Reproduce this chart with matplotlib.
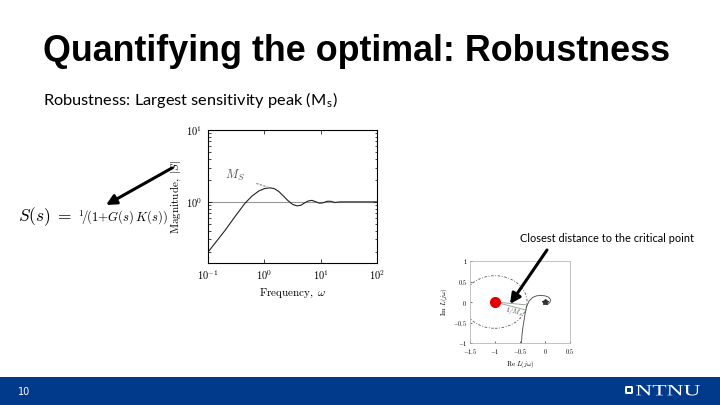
import numpy as np
import matplotlib
matplotlib.use("Agg")
import matplotlib.pyplot as plt
from matplotlib.patches import Rectangle, Circle, FancyBboxPatch, PathPatch
from matplotlib.textpath import TextPath
from matplotlib.font_manager import FontProperties
from matplotlib.transforms import Affine2D

plt.rcParams['mathtext.fontset'] = 'cm'

# -----------------------------
# data
# -----------------------------
# sensitivity |S(jw)|
w = [0.1, 0.2, 0.3, 0.45, 0.6, 0.8, 1.0, 1.25, 1.5, 1.8, 2.2, 2.6, 3.2, 3.8,
     4.5, 5.2, 6.0, 7.0, 8.0, 9.5, 11, 13, 15, 18, 22, 30, 50, 100]
mag_S = [0.2, 0.4, 0.62, 0.95, 1.2, 1.42, 1.53, 1.57, 1.53, 1.4, 1.2, 1.05,
         0.92, 0.88, 0.9, 0.97, 1.03, 1.05, 1.01, 0.96, 0.97, 1.02, 1.02,
         0.98, 1.0, 1.0, 1.0, 1.0]
Ms = 1.56
w_peak = 1.25
bode_xticks = [0.1, 1, 10, 100]
bode_xlabels = [r'$10^{-1}$', r'$10^{0}$', r'$10^{1}$', r'$10^{2}$']
bode_yticks = [1, 10]
bode_ylabels = [r'$10^{0}$', r'$10^{1}$']

# Nyquist of L(jw)
re_L = [-0.47, -0.46, -0.44, -0.42, -0.40, -0.37, -0.32, -0.25, -0.17, -0.08,
        0.0, 0.07, 0.11, 0.10, 0.05, -0.01, -0.03, -0.02, 0.02, 0.05, 0.05,
        0.02, -0.01, 0.0, 0.02, 0.01]
im_L = [-1.0, -0.8, -0.6, -0.45, -0.3, -0.12, 0.02, 0.11, 0.15, 0.16, 0.15,
        0.12, 0.06, -0.01, -0.06, -0.06, -0.02, 0.03, 0.05, 0.03, -0.01,
        -0.04, -0.02, 0.01, 0.02, 0.0]
closest = (-0.37, -0.2)

nyq_xticks = [-1.5, -1, -0.5, 0, 0.5]
nyq_xlabels = [r'$-1.5$', r'$-1$', r'$-0.5$', r'$0$', r'$0.5$']
nyq_yticks = [-1, -0.5, 0, 0.5, 1]
nyq_ylabels = [r'$-1$', r'$-0.5$', r'$0$', r'$0.5$', r'$1$']

W, H = 720, 405
fig = plt.figure(figsize=(7.2, 4.05), dpi=100)

def fr(x0, y0, x1, y1):
    # pixel box (top-left origin) -> figure fraction rect
    return [x0 / W, 1 - y1 / H, (x1 - x0) / W, (y1 - y0) / H]

# -----------------------------
# Bode magnitude of S
# -----------------------------
ax = fig.add_axes(fr(208, 130, 377, 263))
ax.loglog(w, mag_S, color='#222222', lw=0.8)
ax.axhline(1, color='#999999', lw=0.8, zorder=0)
ax.set_xlim(0.1, 100)
ax.set_ylim(10 ** -0.85, 10)
ax.xaxis.set_minor_locator(matplotlib.ticker.NullLocator())
ax.yaxis.set_minor_formatter(matplotlib.ticker.NullFormatter())
ax.set_xticks(bode_xticks)
ax.set_xticklabels(bode_xlabels)
ax.set_yticks(bode_yticks)
ax.set_yticklabels(bode_ylabels)
ax.tick_params(which='both', direction='in', top=True, right=True,
               labelsize=7.5, length=3, width=0.5, pad=4)
ax.tick_params(which='minor', length=1.8)
for s in ax.spines.values():
    s.set_linewidth(0.8)
ax.set_xlabel(r'$\mathrm{Frequency,}\ \omega$', fontsize=8, labelpad=3)
ax.set_ylabel(r'$\mathrm{Magnitude,}\ |S|$', fontsize=8, labelpad=2)
ax.annotate(r'$M_S$', xy=(w_peak, Ms), xytext=(0.3, 2.3), fontsize=9,
            color='#555555', ha='center', va='center',
            arrowprops=dict(arrowstyle='-', ls=':', color='#999999', lw=1.0,
                            shrinkA=7, shrinkB=1))

# -----------------------------
# Nyquist plot of L
# -----------------------------
nx = fig.add_axes(fr(470, 261, 570, 343))
nx.plot(re_L, im_L, color='#444444', lw=0.6)
nx.add_patch(Circle((-1, 0), 1 / Ms, fill=False, ls=(0, (3, 2, 1, 2)),
                    color='#555555', lw=0.6))
nx.plot([-1, closest[0]], [0, closest[1]], color='#8a9a8a', lw=0.6)
nx.plot([-1, -0.37], [0, -0.07], color='#8a9a8a', lw=0.6)
nx.plot([-1], [0], 'o', color='#e00000', ms=7, zorder=5)
nx.plot([0], [0], '*', color='#333333', ms=4)
nx.text(-0.62, -0.25, r'$1/M_S$', fontsize=5, rotation=-14,
        ha='center', va='center', color='#444444')
nx.set_xlim(-1.5, 0.5)
nx.set_ylim(-1, 1)
nx.set_xticks(nyq_xticks)
nx.set_yticks(nyq_yticks)
nx.set_xticklabels(nyq_xlabels)
nx.set_yticklabels(nyq_ylabels)
nx.tick_params(direction='in', labelsize=4.5, length=1.5, width=0.4)
nx.tick_params(axis='x', pad=3)
nx.tick_params(axis='y', pad=2)
for s in nx.spines.values():
    s.set_linewidth(0.5)
    s.set_color('#aaaaaa')
nx.set_xlabel(r'$\mathrm{Re}\ L(j\omega)$', fontsize=5, labelpad=2)
nx.set_ylabel(r'$\mathrm{Im}\ L(j\omega)$', fontsize=5, labelpad=2)

# -----------------------------
# slide overlay: text, arrows, footer
# -----------------------------
ov = fig.add_axes([0, 0, 1, 1])
ov.set_xlim(0, W)
ov.set_ylim(H, 0)
ov.axis('off')

ov.text(357, 61, 'Quantifying the optimal: Robustness', fontsize=25.8,
        fontweight='bold', family='Liberation Sans', ha='center', va='baseline')
ov.text(43, 105, r'Robustness: Largest sensitivity peak (M$_\mathregular{s}$)',
        fontsize=11.8, family='Lato', ha='left', va='baseline')
ov.text(18, 217, r'$S(s)\;=\;$', fontsize=12.5, ha='left', va='center')
ov.text(78, 217, r'${}^1\!/\!(1{+}G(s)\,K(s))$', fontsize=9.2,
        ha='left', va='center')
ov.text(607, 239, 'Closest distance to the critical point', fontsize=7.9,
        family='Lato', ha='center', va='center')

arrow = dict(arrowstyle='-|>,head_length=0.6,head_width=0.3', color='black',
             lw=2.2, shrinkA=0, shrinkB=0)
ov.annotate('', xy=(106, 205), xytext=(172, 168), arrowprops=arrow)
ov.annotate('', xy=(510, 304), xytext=(547, 250), arrowprops=arrow)

ov.add_patch(Rectangle((0, 377), W, 28, color='#023a8b', lw=0))
ov.text(18, 392, '10', fontsize=7, color='white', ha='left', va='center')
ov.add_patch(FancyBboxPatch((625, 386), 8, 8, boxstyle='round,pad=0,rounding_size=1.5',
                            fc='white', ec='none'))
ov.add_patch(Rectangle((627, 388), 4, 4, fc='#023a8b', ec='none'))

# wide NTNU wordmark, stretched to its box
tp = TextPath((0, 0), 'NTNU', size=10, prop=FontProperties(family='Liberation Serif'))
bb = tp.get_extents()
sx = (700 - 636) / bb.width
sy = (395.5 - 385) / bb.height
tr = Affine2D().translate(-bb.x0, -bb.y0).scale(sx, -sy).translate(636, 395.5)
ov.add_patch(PathPatch(tr.transform_path(tp), fc='white', ec='none'))

fig.savefig('out.png', dpi=100)
